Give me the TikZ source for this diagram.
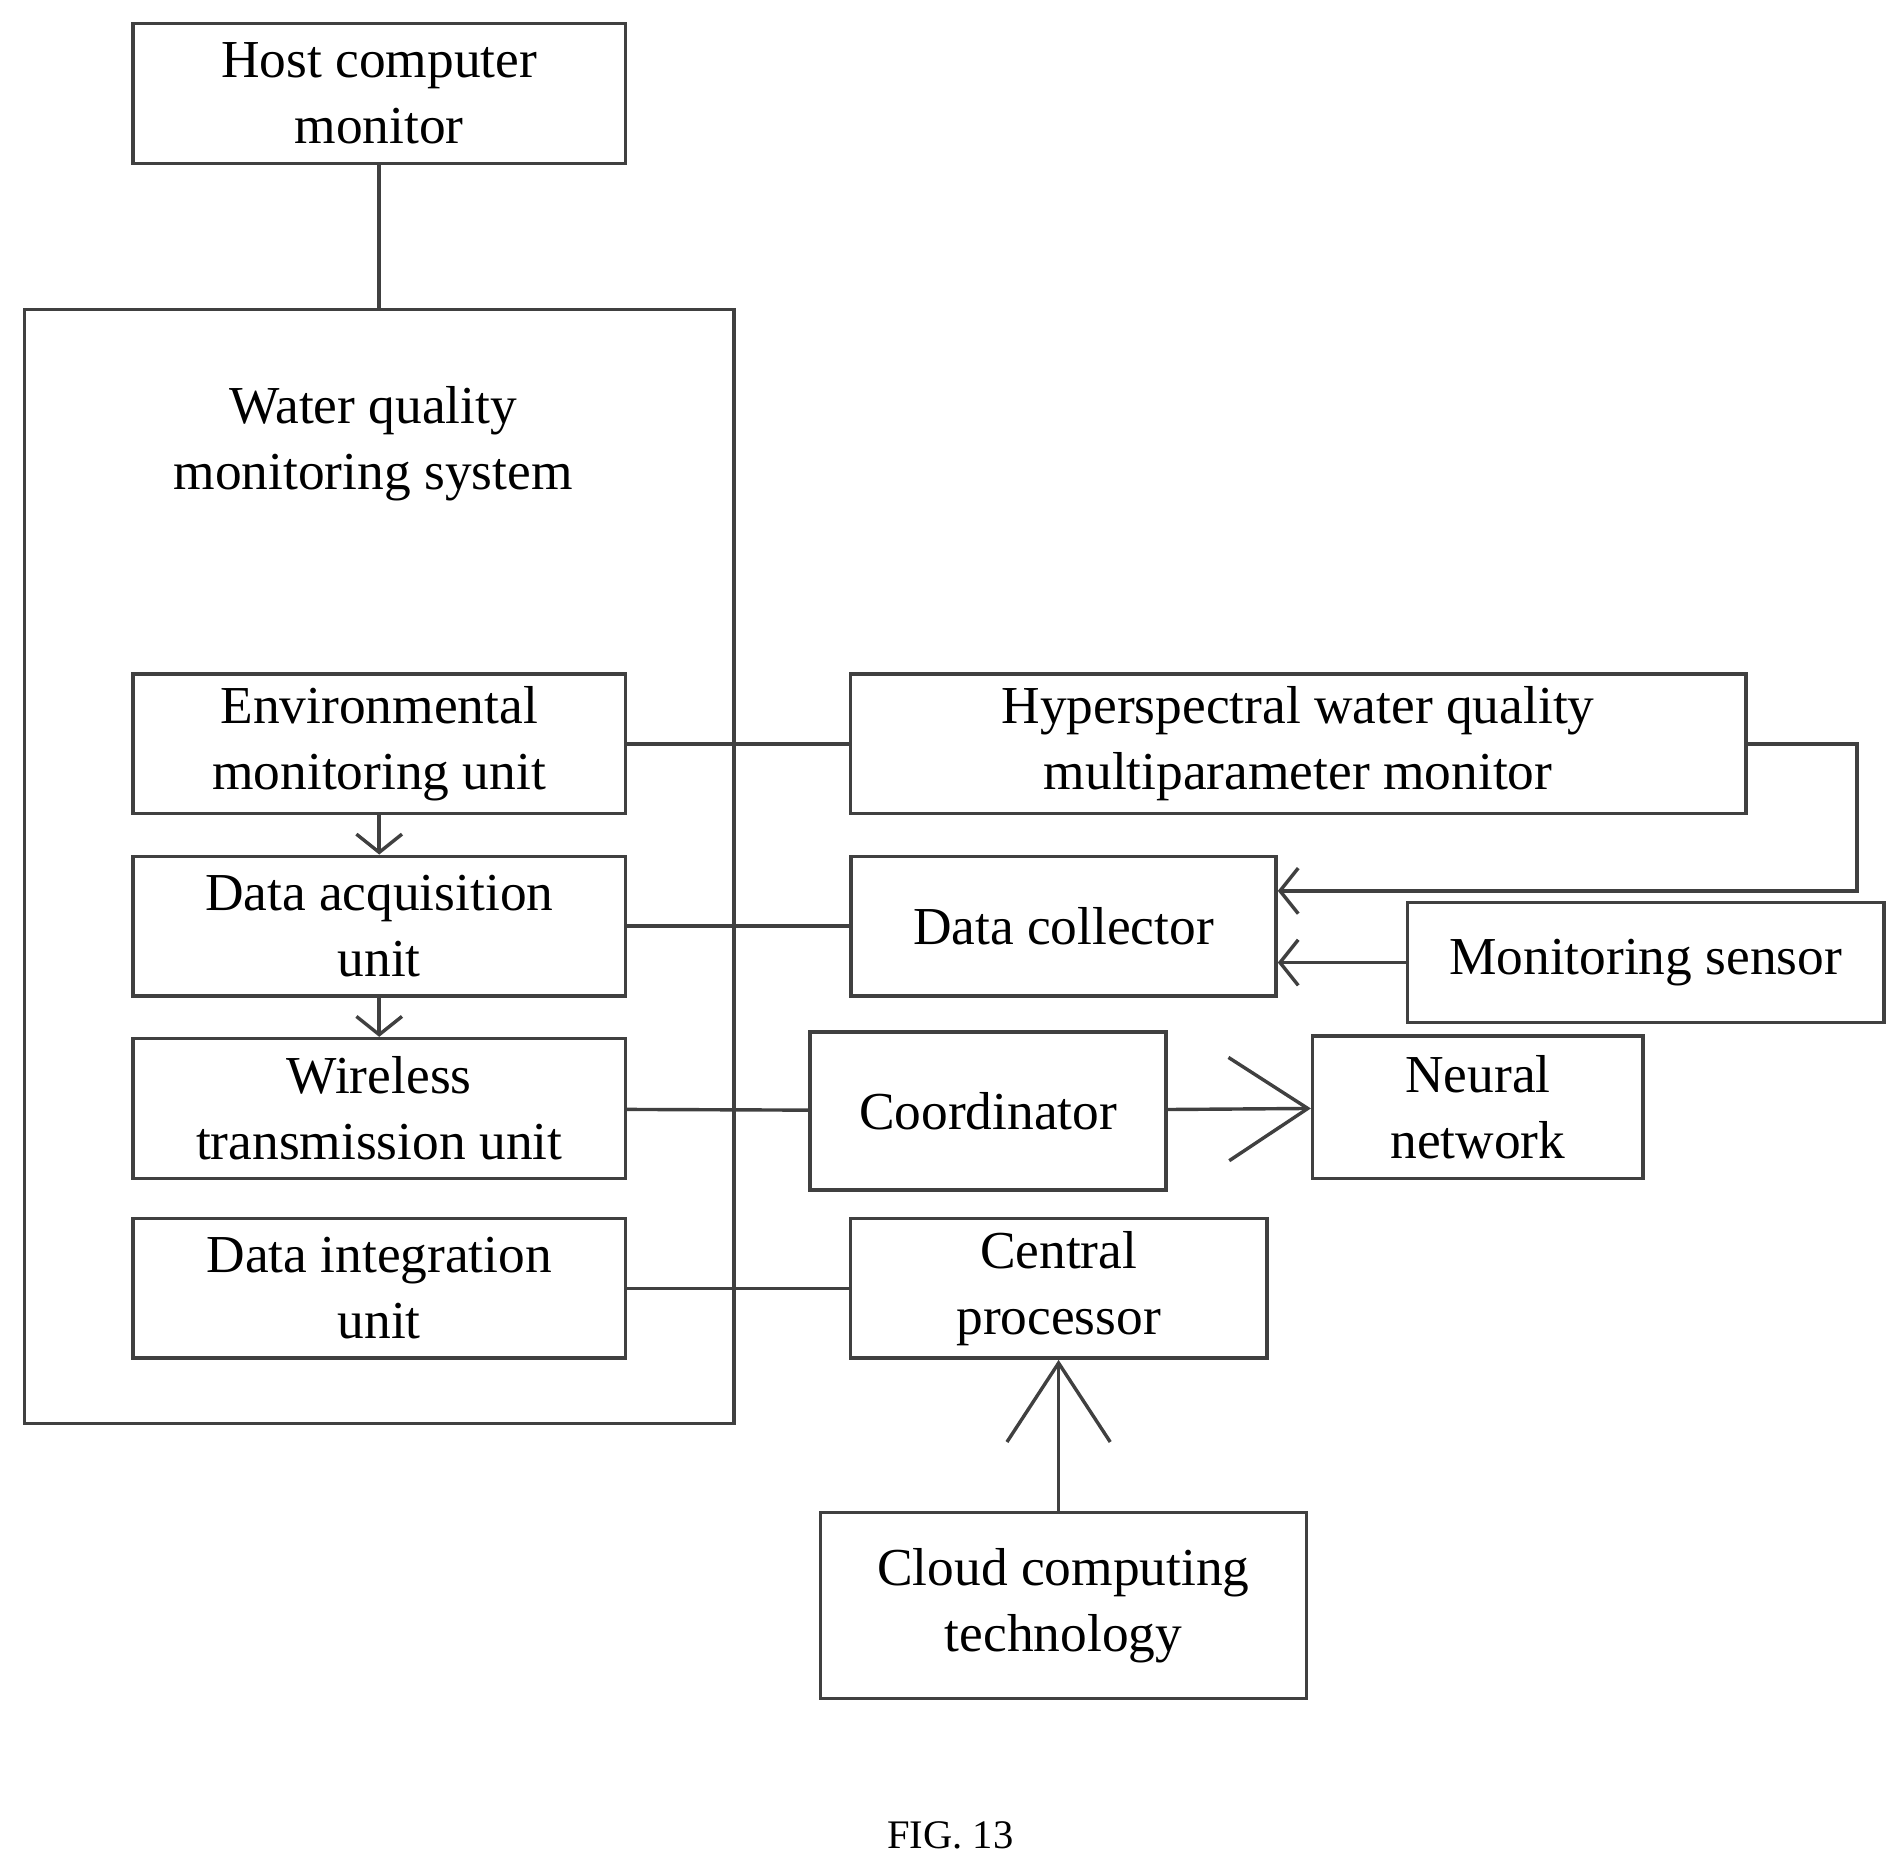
\documentclass[tikz,border=0pt]{standalone}
\usepackage{fontspec}
\setmainfont{Liberation Serif}
\usetikzlibrary{arrows.meta}
\begin{document}
\begin{tikzpicture}[x=0.02cm, y=-0.02cm,
    box/.style={draw, black!75, line width=1.6pt, text=black, align=center, inner sep=0pt,
                font=\fontsize{25}{31}\selectfont},
    conn/.style={draw, black!75, line width=1.6pt},
    small/.style={-{Straight Barb[length=0.3cm, width=0.75cm, line width=1.6pt]}},
    large/.style={-{Straight Barb[length=1.3cm, width=1.7cm, line width=1.6pt]}}]
        \useasboundingbox (0,0) rectangle (1560,1533);
        \node[box, minimum width=8.1cm, minimum height=2.3cm] (host) at (312,77){Host computer\\monitor};
        \node[box, minimum width=11.68cm, minimum height=18.34cm] (sys) at (312,713){};
        \node[font=\fontsize{25}{31}\selectfont, align=center] (title) at (307,365){Water quality\\monitoring system};
        \node[box, minimum width=8.1cm, minimum height=2.3cm] (env) at (312,612){Environmental\\monitoring unit};
        \node[box, minimum width=8.1cm, minimum height=2.3cm] (acq) at (312,762){Data acquisition\\unit};
        \node[box, minimum width=8.1cm, minimum height=2.3cm] (wire) at (312,912){Wireless\\transmission unit};
        \node[box, minimum width=8.1cm, minimum height=2.3cm] (integ) at (312,1060){Data integration\\unit};
        %right part
        \node[box, minimum width=14.74cm, minimum height=2.3cm] (hyper) at (1068,612){Hyperspectral water quality\\multiparameter monitor};
        \node[box, minimum width=7cm, minimum height=2.3cm] (coll) at (875,762){Data collector};
        \node[box, minimum width=7.84cm, minimum height=1.98cm] (sensor) at (1354,792){Monitoring sensor};
        \node[box, minimum width=5.86cm, minimum height=2.6cm] (coord) at (813,914){Coordinator};
        \node[box, minimum width=5.44cm, minimum height=2.34cm] (neural) at (1216,911){Neural\\network};
        \node[box, minimum width=6.86cm, minimum height=2.3cm] (cpu) at (871,1060){Central\\processor};
        \node[box, minimum width=8cm, minimum height=3.06cm] (cloud) at (875,1321){Cloud computing\\technology};
        \coordinate (turn) at (1528,612);
        \node[font=\fontsize{19}{23}\selectfont] (fig) at (782,1510){FIG. 13};
        %connections
        \draw[conn] (host) -- (sys);
        \draw[conn, small] (env) -- (acq);
        \draw[conn, small] (acq) -- (wire);
        \draw[conn] (env) -- (hyper);
        \draw[conn] (acq) -- (coll);
        \draw[conn] (wire) -- (coord);
        \draw[conn] (integ) -- (cpu);
        \draw[conn, small] (hyper.east) -- (turn) |- ([yshift=0.58cm]coll.east);
        \draw[conn, small] (sensor.west) -- (sensor.west -| coll.east);
        \draw[conn, large] (coord) -- (neural);
        \draw[conn, large] (cloud.north -| cpu) -- (cpu.south);
\end{tikzpicture}
\end{document}
